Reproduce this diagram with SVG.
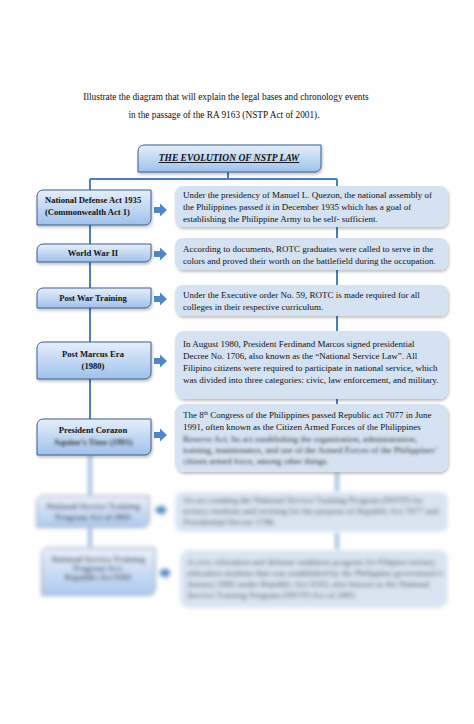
<svg xmlns="http://www.w3.org/2000/svg" width="474" height="724" viewBox="0 0 474 724">
<defs>
<linearGradient id="lg" x1="0" y1="0" x2="0" y2="1">
<stop offset="0" stop-color="#e6effa"/>
<stop offset="1" stop-color="#9fc1ec"/>
</linearGradient>
<filter id="sh" x="-10%" y="-20%" width="130%" height="150%">
<feGaussianBlur in="SourceAlpha" stdDeviation="1.5"/>
<feOffset dx="1" dy="2" result="b"/>
<feComponentTransfer><feFuncA type="linear" slope="0.25"/></feComponentTransfer>
<feMerge><feMergeNode/><feMergeNode in="SourceGraphic"/></feMerge>
</filter>
<filter id="blurT" x="-5%" y="-40%" width="110%" height="180%"><feGaussianBlur stdDeviation="1.6"/></filter>
<filter id="blurB" x="-10%" y="-20%" width="120%" height="140%"><feGaussianBlur stdDeviation="1.9"/></filter>
</defs>
<style>
.t{font-family:"Liberation Serif","Times New Roman",serif;fill:#111}
.hd{font-size:9.3px}
.lb{font-size:8.6px;font-weight:bold}
.rb{font-size:9px}
.lbox{fill:url(#lg);stroke:#3a5f8f;stroke-width:1}
.rbox{fill:#d4e2f1}
.con{stroke:#4b80c0;stroke-width:2;fill:none}
.arr{fill:#4f86c6}
.bt{fill:#3a3a3a}
</style>
<rect width="474" height="724" fill="#ffffff"/>
<g id="heading">
<text class="t hd" x="226" y="100" text-anchor="middle">Illustrate the diagram that will explain the legal bases and chronology events</text>
<text class="t hd" x="224" y="118" text-anchor="middle">in the passage of the RA 9163 (NSTP Act of 2001).</text>
</g>
<g id="connectors">
<path class="con" d="M228,172 V179 M90,179 H337 M90,179 V190 M90,225 V244 M90,262 V288 M90,308 V342 M90,379 V419 M337,179 V186 M337,227 V238 M337,270 V285 M337,316 V331 M337,399 V404"/>
<path class="arr" d="M154,207 H160 V203.5 L167,210 L160,216.5 V213 H154 Z"/>
<path class="arr" d="M154,251 H160 V247.5 L167,254 L160,260.5 V257 H154 Z"/>
<path class="arr" d="M154,296 H160 V292.5 L167,299 L160,305.5 V302 H154 Z"/>
<path class="arr" d="M154,358 H160 V354.5 L167,361 L160,367.5 V364 H154 Z"/>
<path class="arr" d="M154,432 H160 V428.5 L167,435 L160,441.5 V438 H154 Z"/>
<g filter="url(#blurB)">
<path class="con" d="M90,455 V496 M90,527 V548 M337,472 V492 M337,532 V550"/>
<path class="arr" d="M156,507 H161 V504 L167,510 L161,516 V513 H156 Z"/>
<path class="arr" d="M160,570 H165 V567 L171,573 L165,579 V576 H160 Z"/>
</g>
</g>
<g id="title">
<path class="lbox" filter="url(#sh)" d="M144,145 H321 V166 A6,6 0 0 1 315,172 H138 V151 A6,6 0 0 1 144,145 Z"/>
<text class="t" x="229" y="161" text-anchor="middle" font-size="9.5" font-weight="bold" font-style="italic" text-decoration="underline">THE EVOLUTION OF NSTP LAW</text>
</g>
<g id="n1">
<path class="lbox" filter="url(#sh)" d="M43,190 H151 V219 A6,6 0 0 1 145,225 H37 V196 A6,6 0 0 1 43,190 Z"/>
<text class="t lb" x="45" y="203">National Defense Act 1935</text>
<text class="t lb" x="45" y="215">(Commonwealth Act 1)</text>
</g>
<g id="d1">
<rect class="rbox" filter="url(#sh)" x="175" y="186" width="273" height="41" rx="8"/>
<text class="t rb" x="183" y="198">Under the presidency of  Manuel L. Quezon, the national assembly of</text>
<text class="t rb" x="183" y="210">the Philippines passed it in December 1935 which has a goal of</text>
<text class="t rb" x="183" y="222">establishing the Philippine Army to be self- sufficient.</text>
</g>
<g id="n2">
<path class="lbox" filter="url(#sh)" d="M43,244 H151 V256 A6,6 0 0 1 145,262 H37 V250 A6,6 0 0 1 43,244 Z"/>
<text class="t lb" x="93" y="256" text-anchor="middle">World War II</text>
</g>
<g id="d2">
<rect class="rbox" filter="url(#sh)" x="175" y="238" width="273" height="32" rx="8"/>
<text class="t rb" x="183" y="252">According to documents, ROTC graduates were called to serve in the</text>
<text class="t rb" x="183" y="264">colors and proved their worth on the battlefield during the occupation.</text>
</g>
<g id="n3">
<path class="lbox" filter="url(#sh)" d="M43,288 H151 V302 A6,6 0 0 1 145,308 H37 V294 A6,6 0 0 1 43,288 Z"/>
<text class="t lb" x="93" y="301" text-anchor="middle">Post War Training</text>
</g>
<g id="d3">
<rect class="rbox" filter="url(#sh)" x="175" y="285" width="273" height="31" rx="8"/>
<text class="t rb" x="183" y="298">Under the Executive order No. 59, ROTC is made required for all</text>
<text class="t rb" x="183" y="310">colleges in their respective curriculum.</text>
</g>
<g id="n4">
<path class="lbox" filter="url(#sh)" d="M43,342 H151 V373 A6,6 0 0 1 145,379 H37 V348 A6,6 0 0 1 43,342 Z"/>
<text class="t lb" x="93" y="357" text-anchor="middle">Post Marcus Era</text>
<text class="t lb" x="93" y="369" text-anchor="middle">(1980)</text>
</g>
<g id="d4">
<rect class="rbox" filter="url(#sh)" x="175" y="331" width="273" height="68" rx="9"/>
<text class="t rb" x="183" y="347">In August 1980, President Ferdinand Marcos signed presidential</text>
<text class="t rb" x="183" y="359">Decree No. 1706, also known as the “National Service Law”. All</text>
<text class="t rb" x="183" y="371">Filipino citizens were required to participate in national service, which</text>
<text class="t rb" x="183" y="383">was divided into three categories: civic, law enforcement, and military.</text>
</g>
<g id="n5">
<path class="lbox" filter="url(#sh)" d="M43,419 H151 V449 A6,6 0 0 1 145,455 H37 V425 A6,6 0 0 1 43,419 Z"/>
<text class="t lb" x="93" y="433" text-anchor="middle">President Corazon</text>
<text class="t lb bt" x="93" y="445" text-anchor="middle" filter="url(#blurT)">Aquino’s Time (1991)</text>
</g>
<g id="d5">
<rect class="rbox" filter="url(#sh)" x="175" y="404" width="273" height="68" rx="9"/>
<text class="t rb" x="183" y="418">The 8<tspan font-size="5.5" dy="-3.5">th</tspan><tspan dy="3.5"> Congress of the Philippines passed Republic act 7077 in June</tspan></text>
<text class="t rb" x="183" y="430">1991, often known as the Citizen Armed Forces of the Philippines</text>
<g filter="url(#blurT)">
<text class="t rb bt" x="183" y="442">Reserve Act. Its act establishing the organization, administration,</text>
<text class="t rb bt" x="183" y="453">training, maintenance, and use of the Armed Forces of the Philippines’</text>
<text class="t rb bt" x="183" y="464">citizen armed force, among other things.</text>
</g>
</g>
<g id="n6" filter="url(#blurB)" opacity="0.85">
<path class="lbox" d="M43,496 H149 V521 A6,6 0 0 1 143,527 H37 V502 A6,6 0 0 1 43,496 Z"/>
<text class="t lb" x="93" y="509" text-anchor="middle">National Service Training</text>
<text class="t lb" x="93" y="520" text-anchor="middle">Program Act of 2001</text>
</g>
<g id="d6" filter="url(#blurB)" opacity="0.9">
<rect class="rbox" x="175" y="492" width="273" height="40" rx="8"/>
<text class="t rb" x="183" y="503">An act creating the National Service Training Program (NSTP) for</text>
<text class="t rb" x="183" y="514">tertiary students and revising for the purpose of Republic Act 7077 and</text>
<text class="t rb" x="183" y="525">Presidential Decree 1706.</text>
</g>
<g id="n7" filter="url(#blurB)" opacity="0.85">
<path class="lbox" d="M48,548 H155 V589 A6,6 0 0 1 149,595 H42 V554 A6,6 0 0 1 48,548 Z"/>
<text class="t lb" x="98" y="562" text-anchor="middle">National Service Training</text>
<text class="t lb" x="98" y="571" text-anchor="middle">Program Act:</text>
<text class="t lb" x="98" y="580" text-anchor="middle">Republic Act 9163</text>
</g>
<g id="d7" filter="url(#blurB)" opacity="0.9">
<rect class="rbox" x="180" y="550" width="268" height="58" rx="9"/>
<text class="t rb" x="187" y="565">A civic education and defense readiness program for Filipino tertiary</text>
<text class="t rb" x="187" y="576">education students that was established by the Philippine government’s</text>
<text class="t rb" x="187" y="587">January 2002 under Republic Act 9163, also known as the National</text>
<text class="t rb" x="187" y="598">Service Training Program (NSTP) Act of 2001.</text>
</g>
</svg>
